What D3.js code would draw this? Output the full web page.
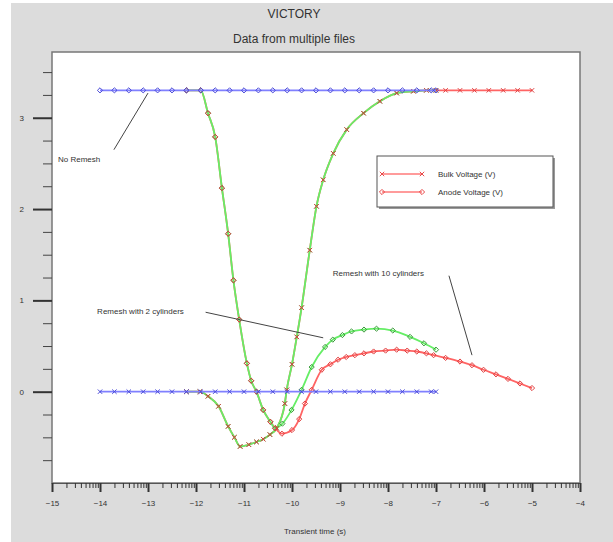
<!DOCTYPE html>
<html>
<head>
<meta charset="utf-8">
<script src="https://cdn.jsdelivr.net/npm/d3@7"></script>
<style>
  body { margin: 0; background: #fff; }
  text { font-family: "Liberation Sans", Arial, sans-serif; fill: #333; }
</style>
</head>
<body>
<svg id="chart" width="613" height="542"></svg>
<script>
// --- data (log10 of transient time, voltage) ---
const xTicks = [-15, -14, -13, -12, -11, -10, -9, -8, -7, -6, -5, -4];
const yTicks = [0, 1, 2, 3];
const yMinorTicks = [-0.75, -0.5, -0.25, 0.25, 0.5, 0.75, 1.25, 1.5, 1.75, 2.25, 2.5, 2.75, 3.25, 3.5];

const noRemeshTime = [-14, -13.7, -13.4, -13.1, -12.8, -12.5, -12.2, -11.9, -11.6, -11.3, -11.0, -10.7, -10.4,
  -10.1, -9.8, -9.5, -9.2, -8.9, -8.6, -8.3, -8.0, -7.7, -7.4, -7.1, -7.0];
const noRemeshAnode = [3.3, 3.3, 3.3, 3.3, 3.3, 3.3, 3.3, 3.3, 3.3, 3.3, 3.3, 3.3, 3.3,
  3.3, 3.3, 3.3, 3.3, 3.3, 3.3, 3.3, 3.3, 3.3, 3.3, 3.3, 3.3];
const noRemeshBulk = [0, 0, 0, 0, 0, 0, 0, 0, 0, 0, 0, 0, 0,
  0, 0, 0, 0, 0, 0, 0, 0, 0, 0, 0, 0];

const cyl2AnodeTime = [-12.2, -11.9, -11.75, -11.6, -11.46, -11.33, -11.22, -11.1, -10.94, -10.85, -10.74, -10.6,
  -10.45, -10.35, -10.2, -10.01, -9.8, -9.59, -9.31, -9.15, -8.95, -8.76, -8.5, -8.24, -7.9, -7.54, -7.25, -7.0];
const cyl2Anode = [3.3, 3.3, 3.05, 2.79, 2.23, 1.73, 1.22, 0.79, 0.31, 0.12, 0.0, -0.2,
  -0.33, -0.40, -0.35, -0.20, 0.02, 0.27, 0.49, 0.57, 0.62, 0.66, 0.68, 0.69, 0.67, 0.60, 0.53, 0.46];

const cyl2BulkTime = [-12.2, -11.92, -11.75, -11.53, -11.33, -11.2, -11.08, -10.9, -10.74, -10.6, -10.46, -10.32,
  -10.15, -10.11, -10.0, -9.9, -9.8, -9.63, -9.49, -9.35, -9.14, -8.86, -8.51, -8.17, -7.82, -7.47, -7.2, -7.0];
const cyl2Bulk = [0, 0, -0.05, -0.16, -0.38, -0.50, -0.60, -0.58, -0.55, -0.52, -0.47, -0.40,
  -0.13, 0.02, 0.30, 0.60, 0.92, 1.55, 2.03, 2.32, 2.61, 2.87, 3.05, 3.18, 3.27, 3.29, 3.3, 3.3];

const cyl10AnodeTime = [-12.2, -11.9, -11.75, -11.6, -11.46, -11.33, -11.22, -11.1, -10.94, -10.85, -10.74, -10.6,
  -10.45, -10.35, -10.21, -10.0, -9.85, -9.73, -9.59, -9.38, -9.2, -9.04, -8.87, -8.69, -8.5, -8.3, -8.05,
  -7.82, -7.6, -7.4, -7.2, -7.05, -6.8, -6.5, -6.25, -6.01, -5.75, -5.5, -5.25, -5.0];
const cyl10Anode = [3.3, 3.3, 3.05, 2.79, 2.23, 1.73, 1.22, 0.79, 0.31, 0.12, 0.0, -0.2,
  -0.33, -0.40, -0.46, -0.42, -0.30, -0.13, 0.02, 0.24, 0.30, 0.35, 0.38, 0.40, 0.42, 0.44, 0.45,
  0.46, 0.45, 0.44, 0.42, 0.40, 0.37, 0.33, 0.29, 0.24, 0.19, 0.14, 0.09, 0.04];

const cyl10BulkTime = [-12.2, -11.92, -11.75, -11.53, -11.33, -11.2, -11.08, -10.9, -10.74, -10.6, -10.46, -10.32,
  -10.15, -10.11, -10.0, -9.9, -9.8, -9.63, -9.49, -9.35, -9.14, -8.86, -8.51, -8.17, -7.82, -7.47, -7.2, -7.0,
  -6.8, -6.5, -6.2, -5.9, -5.6, -5.3, -5.0];
const cyl10Bulk = [0, 0, -0.05, -0.16, -0.38, -0.50, -0.60, -0.58, -0.55, -0.52, -0.47, -0.40,
  -0.13, 0.02, 0.30, 0.60, 0.92, 1.55, 2.03, 2.32, 2.61, 2.87, 3.05, 3.18, 3.27, 3.29, 3.3, 3.3,
  3.3, 3.3, 3.3, 3.3, 3.3, 3.3, 3.3];

// annotation labels: text anchor point and leader line, in data units
const notes = [
  { text: 'No Remesh', tx: -14.875, ty: 2.55, line: [[-13.71, 2.65], [-13.0, 3.27]] },
  { text: 'Remesh with 2 cylinders', tx: -14.06, ty: 0.88, line: [[-11.8, 0.87], [-9.35, 0.59]] },
  { text: 'Remesh with 10 cylinders', tx: -9.15, ty: 1.30, line: [[-6.73, 1.27], [-6.25, 0.40]] }
];
const legendLabels = ['Bulk Voltage (V)', 'Anode Voltage (V)'];

// --- layout ---
const svg = d3.select('#chart');
const plot = { left: 52, top: 52, right: 580, bottom: 483 };

const xScale = d3.scaleLinear().domain([-15, -4]).range([plot.left, plot.right]);
const yScale = d3.scaleLinear().domain([-1, 3.72]).range([plot.bottom, plot.top]);

svg.append('rect')
  .attr('x', 11).attr('y', 3)
  .attr('width', 602).attr('height', 539)
  .attr('fill', '#dcdcdc');

svg.append('rect')
  .attr('x', plot.left).attr('y', plot.top)
  .attr('width', plot.right - plot.left).attr('height', plot.bottom - plot.top)
  .attr('fill', '#fff')
  .attr('stroke', '#777')
  .attr('stroke-width', 1.5);

svg.append('text').attr('x', 294).attr('y', 18)
  .attr('text-anchor', 'middle').style('font-size', '12px').text('VICTORY');
svg.append('text').attr('x', 294).attr('y', 43)
  .attr('text-anchor', 'middle').style('font-size', '12px').text('Data from multiple files');
svg.append('text').attr('x', 315).attr('y', 534)
  .attr('text-anchor', 'middle').style('font-size', '8px').text('Transient time (s)');

// x axis: decade labels plus log minor ticks
const xMinor = [];
xTicks.slice(0, -1).forEach(k => {
  for (let m = 2; m <= 9; m++) xMinor.push(k + Math.log10(m));
});

const gxMinor = svg.append('g')
  .attr('transform', 'translate(0,' + plot.bottom + ')')
  .call(d3.axisBottom(xScale).tickValues(xMinor).tickSize(5).tickFormat(''));
gxMinor.select('.domain').attr('stroke', '#555');
gxMinor.selectAll('.tick line').attr('stroke', '#333');

const gx = svg.append('g')
  .attr('transform', 'translate(0,' + plot.bottom + ')')
  .call(d3.axisBottom(xScale).tickValues(xTicks).tickSize(9).tickPadding(8).tickFormat(d3.format('d')));
gx.select('.domain').remove();
gx.selectAll('.tick line').attr('stroke', '#333').attr('stroke-width', 2);
gx.selectAll('.tick text').style('font-size', '8px').attr('fill', '#333');

// y axis
const gyMinor = svg.append('g')
  .attr('transform', 'translate(' + plot.left + ',0)')
  .call(d3.axisLeft(yScale).tickValues(yMinorTicks).tickSize(9).tickFormat(''));
gyMinor.select('.domain').remove();
gyMinor.selectAll('.tick line').attr('stroke', '#444');

const gy = svg.append('g')
  .attr('transform', 'translate(' + plot.left + ',0)')
  .call(d3.axisLeft(yScale).tickValues(yTicks).tickSize(19).tickPadding(9).tickFormat(d3.format('d')));
gy.select('.domain').remove();
gy.selectAll('.tick line').attr('stroke', '#333').attr('stroke-width', 2);
gy.selectAll('.tick text').style('font-size', '8px').attr('fill', '#333');

// --- series ---
svg.append('clipPath').attr('id', 'clip')
  .append('rect')
  .attr('x', plot.left).attr('y', plot.top)
  .attr('width', plot.right - plot.left).attr('height', plot.bottom - plot.top);

const layer = svg.append('g').attr('clip-path', 'url(#clip)');
const lineLayer = layer.append('g');
const markLayer = layer.append('g');
const blueLayer = layer.append('g');

const line = d3.line()
  .x(d => xScale(d[0]))
  .y(d => yScale(d[1]))
  .curve(d3.curveMonotoneX);

function crossPath(s) {
  return 'M' + -s + ',' + -s + 'L' + s + ',' + s + 'M' + -s + ',' + s + 'L' + s + ',' + -s;
}
const diamondPath = 'M0,-2.6L2.6,0L0,2.6L-2.6,0Z';

function drawLine(g, times, values, color) {
  const pts = times.map((t, i) => [t, values[i]]);
  g.append('path')
    .datum(pts)
    .attr('d', line)
    .attr('fill', 'none')
    .attr('stroke', color)
    .attr('stroke-width', 1.8);
}

function drawMarks(g, times, values, color, marker) {
  const pts = times.map((t, i) => [t, values[i]]);
  g.selectAll(null)
    .data(pts)
    .enter()
    .append('path')
    .attr('transform', d => 'translate(' + xScale(d[0]) + ',' + yScale(d[1]) + ')')
    .attr('d', marker === 'x' ? crossPath(2.2) : diamondPath)
    .attr('fill', 'none')
    .attr('stroke', color)
    .attr('stroke-width', 1);
}

// red (10 cylinders) underneath, green (2 cylinders) line over it, markers on top
drawLine(lineLayer, cyl10AnodeTime, cyl10Anode, '#ff6464');
drawLine(lineLayer, cyl10BulkTime, cyl10Bulk, '#ff6464');
drawLine(lineLayer, cyl2AnodeTime, cyl2Anode, '#66ee66');
drawLine(lineLayer, cyl2BulkTime, cyl2Bulk, '#66ee66');

drawMarks(markLayer, cyl2AnodeTime, cyl2Anode, '#3a9a3a', 'o');
drawMarks(markLayer, cyl2BulkTime, cyl2Bulk, '#3a9a3a', 'x');
drawMarks(markLayer, cyl10AnodeTime, cyl10Anode, '#e04040', 'o');
drawMarks(markLayer, cyl10BulkTime, cyl10Bulk, '#e04040', 'x');

drawLine(blueLayer, noRemeshTime, noRemeshAnode, '#8080ff');
drawLine(blueLayer, noRemeshTime, noRemeshBulk, '#8080ff');
drawMarks(blueLayer, noRemeshTime, noRemeshAnode, '#4a4ad8', 'o');
drawMarks(blueLayer, noRemeshTime, noRemeshBulk, '#4a4ad8', 'x');

// --- annotations ---
notes.forEach(n => {
  svg.append('line')
    .attr('x1', xScale(n.line[0][0])).attr('y1', yScale(n.line[0][1]))
    .attr('x2', xScale(n.line[1][0])).attr('y2', yScale(n.line[1][1]))
    .attr('stroke', '#444')
    .attr('stroke-width', 1);
  svg.append('text')
    .attr('x', xScale(n.tx)).attr('y', yScale(n.ty))
    .attr('dy', '0.35em')
    .style('font-size', '8px')
    .text(n.text);
});

// --- legend ---
const legend = svg.append('g').attr('transform', 'translate(377,156)');
legend.append('rect')
  .attr('x', 2).attr('y', 2).attr('width', 176).attr('height', 51)
  .attr('fill', '#999');
legend.append('rect')
  .attr('width', 176).attr('height', 51)
  .attr('fill', '#fff')
  .attr('stroke', '#555')
  .attr('stroke-width', 1);

const legendRow = legend.selectAll('.legend-row')
  .data(legendLabels)
  .enter()
  .append('g')
  .classed('legend-row', true)
  .attr('transform', (d, i) => 'translate(0,' + (18 + i * 18) + ')');

legendRow.append('line')
  .attr('x1', 5).attr('x2', 45)
  .attr('stroke', '#ff7a7a')
  .attr('stroke-width', 1.5);
legendRow.each(function (d, i) {
  [5, 45].forEach(px => {
    d3.select(this).append('path')
      .attr('transform', 'translate(' + px + ',0)')
      .attr('d', i === 0 ? crossPath(2.2) : diamondPath)
      .attr('fill', 'none')
      .attr('stroke', '#e84a4a');
  });
});
legendRow.append('text')
  .attr('x', 61).attr('dy', '0.35em')
  .style('font-size', '8px')
  .text(d => d);
</script>
</body>
</html>
